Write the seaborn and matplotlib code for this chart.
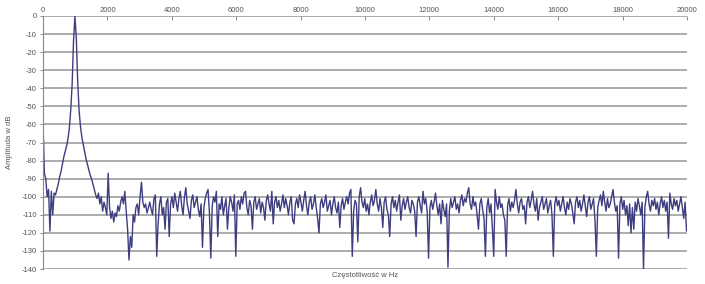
import numpy as np
import pandas as pd
import matplotlib
matplotlib.use("Agg")
import matplotlib.pyplot as plt
import seaborn as sns

# ---- data ----
bin_width_hz = 43.07
amplitude_db = [
    -58, -87, -90, -100, -96, -119, -97, -110, -98, -99,
    -96, -93, -89, -86, -82, -78, -75, -72, -68, -62,
    -52, -38, -14, 0, -12, -36, -52, -61, -67, -71,
    -75, -79, -82, -85, -88, -90, -93, -96, -99, -101,
    -98, -104, -100, -108, -103, -106, -110, -87, -106, -112,
    -108, -114, -109, -111, -105, -108, -103, -100, -104, -97,
    -108, -118, -135, -122, -128, -110, -114, -106, -104, -110,
    -100, -92, -103, -106, -104, -109, -106, -103, -107, -110,
    -101, -99, -133, -115, -104, -100, -110, -106, -118, -103,
    -101,
    -122, -104, -100, -106, -98, -103, -108, -101, -97, -105,
    -110, -100, -95, -104, -108, -112, -102, -99, -106, -103,
    -100, -107, -111, -104, -128, -106, -101, -98, -96, -109,
    -134, -105, -100, -103, -97, -122, -104, -107, -100, -110,
    -105, -101, -118, -106, -100, -103, -108, -99, -133, -104,
    -102, -107, -100, -104, -98, -97, -106, -110, -102, -105,
    -118, -103, -100, -107, -104, -101, -109, -103, -106, -113,
    -102, -99, -104, -108, -97, -115, -103, -100, -106, -102,
    -108, -104, -99, -106, -101, -105, -110, -103, -100, -113,
    -115, -104, -101, -106, -99, -103, -108, -102, -97, -105,
    -110, -103, -100, -107, -104, -99, -106, -112, -120, -104,
    -101, -106, -103, -99, -108, -105, -102, -110, -104, -100,
    -106, -109, -103, -117, -105, -101, -107, -103, -100, -104,
    -98, -96, -133, -108, -102, -104, -125, -100, -95, -103,
    -106, -101, -108, -104, -110, -103, -99, -105, -102, -96,
    -104, -108, -101, -106, -117, -103, -100, -107, -110, -122,
    -104, -100, -106, -102, -108, -103, -99, -113, -105, -101,
    -107, -103, -100, -106, -109, -102, -104, -108, -122, -103,
    -100, -105, -109, -97, -104, -101, -108, -134, -106, -102,
    -107, -103, -98, -105, -110, -104, -115, -102, -107, -111,
    -104, -139, -108, -101, -106, -103, -100, -107, -104, -109,
    -102, -99, -105, -101, -103, -98, -95, -104, -107, -100,
    -105, -103, -110, -118, -104, -101, -107, -112, -133, -106,
    -101, -109, -104, -117, -133, -96, -103, -107, -100, -106,
    -104, -110, -113, -133, -105, -101, -108, -103, -106, -102,
    -96, -104, -109, -103, -101, -107, -105, -115, -103, -100,
    -106, -102, -97, -104, -108, -101, -113, -106, -103, -100,
    -107, -104, -101, -109, -105, -102, -110, -133, -104, -100,
    -105, -102, -108, -104, -100, -106, -110, -103, -107, -101,
    -104, -109, -115, -103, -100, -106, -102, -108, -104, -99,
    -105, -111, -103, -100, -107, -104, -101, -113, -133, -106,
    -102, -99, -105, -97, -103, -108, -101, -106, -104, -100,
    -96, -103, -108, -105, -134, -104, -100, -107, -102, -110,
    -105, -116, -104, -120, -106, -118, -103, -108, -101, -105,
    -110, -103, -140, -106, -100, -97, -104, -108, -102, -105,
    -101, -107, -103, -110, -104, -100, -106, -102, -108, -103,
    -123, -98, -104, -107, -101, -105, -102, -108, -104, -100,
    -106, -112, -103, -119,
]
x_ticks = [0, 2000, 4000, 6000, 8000, 10000, 12000, 14000, 16000, 18000, 20000]
y_ticks = [0, -10, -20, -30, -40, -50, -60, -70, -80, -90, -100, -110, -120, -130, -140]
x_label = "Częstotliwość w Hz"
y_label = "Amplituda w dB"

frequency_hz = np.arange(len(amplitude_db)) * bin_width_hz
df = pd.DataFrame({"f": frequency_hz, "a": amplitude_db})

# ---- style ----
sns.set_style("white")
plt.rcParams["font.family"] = ["Liberation Sans", "DejaVu Sans"]

fig = plt.figure(figsize=(7.05, 2.84), dpi=100)
ax = fig.add_axes([43 / 705, 1 - 269 / 284, (687 - 43) / 705, (269 - 16) / 284])

for yv in y_ticks:
    ax.axhline(yv, color="#acacac", linewidth=1.4, zorder=0)

sns.lineplot(data=df, x="f", y="a", ax=ax, color="#3d3d80", linewidth=1.0,
             estimator=None, sort=False)

ax.set_xlim(0, 20000)
ax.set_ylim(-140, 0)
ax.set_xticks(x_ticks)
ax.set_xticklabels([str(v) for v in x_ticks])
ax.set_yticks(y_ticks)
ax.set_yticklabels([str(v) for v in y_ticks])
ax.xaxis.tick_top()
ax.xaxis.set_label_position("bottom")
ax.tick_params(axis="x", which="both", top=True, bottom=False, direction="in",
               length=3, width=0.6, color="#777777", labelsize=5.5,
               labelcolor="#555555", pad=1.5)
ax.tick_params(axis="y", which="both", left=True, direction="out",
               length=2.5, width=0.6, color="#777777", labelsize=5.5,
               labelcolor="#555555", pad=2)

for side in ["right", "bottom", "top"]:
    ax.spines[side].set_visible(False)
ax.spines["left"].set_color("#888888")
ax.spines["left"].set_linewidth(0.8)

ax.set_xlabel(x_label, fontsize=5.5, color="#555555", labelpad=2)
ax.set_ylabel(y_label, fontsize=5.5, color="#555555", labelpad=6)

fig.savefig("out.png", dpi=100)
